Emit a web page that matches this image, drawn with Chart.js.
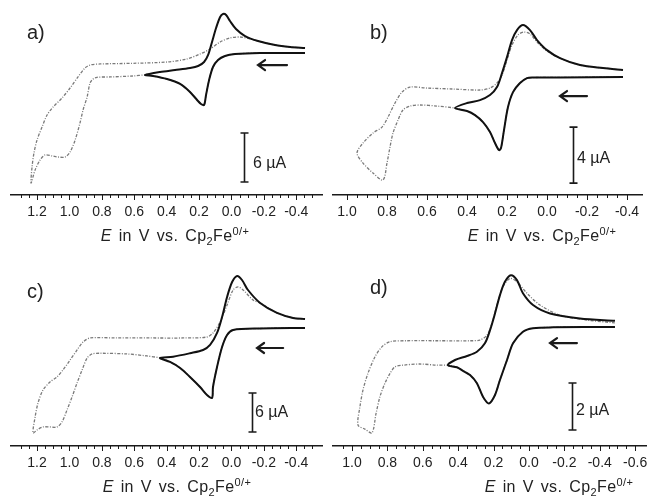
<!DOCTYPE html>
<html>
<head>
<meta charset="utf-8">
<script src="https://cdn.jsdelivr.net/npm/chart.js@4.4.0/dist/chart.umd.min.js"></script>
<style>
  html, body { margin: 0; padding: 0; background: #fff; overflow: hidden; }
  body { width: 647px; height: 498px; position: relative; font-family: "Liberation Sans", Arial, sans-serif; color: #222; }
  .panel { position: absolute; }
  .lbl { position: absolute; white-space: nowrap; line-height: 1; }
  .letter { font-size: 20px; }
  .unit { font-size: 16px; }
  .title { font-size: 16px; letter-spacing: 0.4px; word-spacing: 2px; transform: translateX(-50%); }
  .title sub, .title sup { font-size: 11px; line-height: 0; }
</style>
</head>
<body>
<div class="panel" style="left:10px;top:0;width:313px;height:249px"><canvas id="cvA"></canvas></div>
<div class="panel" style="left:332px;top:0;width:311px;height:249px"><canvas id="cvB"></canvas></div>
<div class="panel" style="left:10px;top:251px;width:313px;height:249px"><canvas id="cvC"></canvas></div>
<div class="panel" style="left:332px;top:251px;width:315px;height:249px"><canvas id="cvD"></canvas></div>

<div class="lbl letter" style="left:27px;top:22px">a)</div>
<div class="lbl letter" style="left:370px;top:22px">b)</div>
<div class="lbl letter" style="left:27px;top:281px">c)</div>
<div class="lbl letter" style="left:370px;top:277px">d)</div>

<div class="lbl unit" style="left:253px;top:155px">6 µA</div>
<div class="lbl unit" style="left:577px;top:150px">4 µA</div>
<div class="lbl unit" style="left:255px;top:404px">6 µA</div>
<div class="lbl unit" style="left:576px;top:402px">2 µA</div>

<div class="lbl title" style="left:175px;top:228px"><i>E</i> in V vs. Cp<sub>2</sub>Fe<sup>0/+</sup></div>
<div class="lbl title" style="left:542px;top:228px"><i>E</i> in V vs. Cp<sub>2</sub>Fe<sup>0/+</sup></div>
<div class="lbl title" style="left:177px;top:479px"><i>E</i> in V vs. Cp<sub>2</sub>Fe<sup>0/+</sup></div>
<div class="lbl title" style="left:559px;top:479px"><i>E</i> in V vs. Cp<sub>2</sub>Fe<sup>0/+</sup></div>

<script>
const FONT = '"Liberation Sans", Arial, sans-serif';

// a) potential (V) and current (µA), solid = scan to 0.53 V, dashed = scan to 1.24 V
const aTicks = [1.2, 1.0, 0.8, 0.6, 0.4, 0.2, 0.0, -0.2, -0.4];
const aSolidE = [-0.454, -0.177, -0.022, 0.040, 0.083, 0.114, 0.138, 0.157, 0.169, 0.188, 0.212, 0.256, 0.317, 0.398, 0.484, 0.533,
  0.441, 0.348, 0.256, 0.206, 0.169, 0.144, 0.120, 0.095, 0.070, 0.052, 0.033, 0.009, -0.028, -0.084, -0.164, -0.269, -0.362, -0.454];
const aSolidI = [-0.37, -0.37, -0.49, -0.73, -1.22, -2.08, -3.67, -5.51, -6.73, -6.61, -6.12, -5.14, -4.16, -3.55, -3.18, -3.06,
  -2.69, -2.45, -2.20, -1.96, -1.47, -0.61, 0.98, 2.69, 4.04, 4.41, 4.28, 3.55, 2.57, 1.71, 1.10, 0.61, 0.37, 0.24];
const aDashE = [-0.454, -0.177, -0.022, 0.040, 0.083, 0.114, 0.138, 0.157, 0.169, 0.188, 0.212, 0.256, 0.317, 0.398, 0.484, 0.533,
  0.607, 0.749, 0.830, 0.854, 0.873, 0.891, 0.916, 0.935, 0.965, 0.996, 1.027, 1.070, 1.107, 1.151, 1.181, 1.212, 1.237,
  1.231, 1.219, 1.200, 1.169, 1.138, 1.101, 1.046, 0.996, 0.947, 0.904, 0.873, 0.811, 0.607, 0.398, 0.274, 0.194, 0.132,
  0.070, 0.009, -0.053, -0.115, -0.164, -0.269, -0.362, -0.454];
const aDashI = [-0.37, -0.37, -0.49, -0.73, -1.22, -2.08, -3.67, -5.51, -6.73, -6.61, -6.12, -5.14, -4.16, -3.55, -3.18, -3.06,
  -3.18, -3.30, -3.34, -3.55, -4.04, -5.75, -7.34, -8.94, -11.02, -12.48, -13.10, -13.10, -12.97, -12.85, -13.46, -14.69, -16.28,
  -14.32, -12.61, -11.02, -9.42, -7.96, -6.98, -5.88, -4.65, -3.30, -2.20, -1.84, -1.71, -1.63, -1.47, -1.10, -0.49, 0.12,
  0.98, 1.47, 1.59, 1.35, 1.10, 0.61, 0.37, 0.24];

// b)
const bTicks = [1.0, 0.8, 0.6, 0.4, 0.2, 0.0, -0.2, -0.4];
const bSolidE = [-0.38, -0.065, 0.07, 0.10, 0.135, 0.17, 0.195, 0.215, 0.23, 0.24, 0.26, 0.285, 0.32, 0.36, 0.40, 0.46,
  0.40, 0.335, 0.285, 0.25, 0.225, 0.20, 0.175, 0.15, 0.12, 0.085, 0.05, 0.0, -0.065, -0.165, -0.28, -0.38];
const bSolidI = [-0.21, -0.24, -0.25, -0.29, -0.64, -1.29, -2.36, -4.0, -5.29, -5.43, -4.93, -4.14, -3.43, -2.93, -2.64, -2.43,
  -2.07, -1.86, -1.5, -0.93, 0.07, 1.21, 2.43, 3.14, 3.5, 3.14, 2.43, 1.71, 1.14, 0.64, 0.43, 0.29];
const bDashE = [-0.38, -0.065, 0.07, 0.10, 0.135, 0.17, 0.195, 0.215, 0.23, 0.24, 0.26, 0.285, 0.32, 0.36, 0.40, 0.46,
  0.55, 0.635, 0.685, 0.72, 0.745, 0.77, 0.785, 0.80, 0.82, 0.87, 0.92, 0.95,
  0.92, 0.87, 0.825, 0.795, 0.76, 0.725, 0.685, 0.60, 0.47, 0.335, 0.285, 0.25, 0.225, 0.20, 0.175, 0.145, 0.115,
  0.085, 0.05, 0.0, -0.065, -0.165, -0.28, -0.38];
const bDashI = [-0.21, -0.24, -0.25, -0.29, -0.64, -1.29, -2.36, -4.0, -5.29, -5.43, -4.93, -4.14, -3.43, -2.93, -2.64, -2.43,
  -2.29, -2.21, -2.29, -2.57, -3.29, -4.21, -5.21, -6.36, -7.57, -7.07, -6.36, -5.64,
  -4.93, -4.21, -3.79, -3.07, -2.07, -1.29, -0.93, -1.0, -1.07, -1.14, -1.0, -0.64, -0.07, 1.0, 2.07, 2.79, 3.0,
  2.86, 2.29, 1.64, 1.14, 0.64, 0.43, 0.29];

// c)
const cTicks = [1.2, 1.0, 0.8, 0.6, 0.4, 0.2, 0.0, -0.2, -0.4];
const cSolidE = [-0.454, -0.177, -0.010, 0.027, 0.058, 0.089, 0.114, 0.120, 0.151, 0.194, 0.256, 0.317, 0.379, 0.441,
  0.360, 0.256, 0.175, 0.132, 0.089, 0.058, 0.027, -0.004, -0.035, -0.065, -0.102, -0.177, -0.281, -0.380, -0.454];
const cSolidI = [-0.69, -0.77, -1.0, -1.77, -3.62, -6.69, -9.77, -11.46, -11.0, -9.77, -8.23, -6.85, -5.92, -5.31,
  -5.11, -4.58, -4.08, -3.31, -1.46, 1.0, 4.08, 6.38, 7.31, 6.69, 5.15, 3.15, 1.62, 0.85, 0.69];
const cDashE = [-0.454, -0.177, -0.010, 0.027, 0.058, 0.089, 0.114, 0.120, 0.151, 0.194, 0.256, 0.317, 0.379, 0.441,
  0.521, 0.644, 0.811, 0.860, 0.891, 0.922, 0.953, 0.984, 1.015, 1.046, 1.077, 1.120, 1.163, 1.200, 1.225,
  1.212, 1.194, 1.163, 1.120, 1.077, 1.040, 0.996, 0.953, 0.916, 0.873, 0.706, 0.502, 0.299, 0.151, 0.114,
  0.070, 0.027, -0.010, -0.041, -0.072, -0.133, -0.177, -0.281, -0.380, -0.454];
const cDashI = [-0.69, -0.77, -1.0, -1.77, -3.62, -6.69, -9.77, -11.46, -11.0, -9.77, -8.23, -6.85, -5.92, -5.31,
  -5.0, -4.69, -4.58, -4.69, -5.31, -7.15, -9.15, -11.31, -13.31, -15.15, -15.92, -15.92, -15.92, -16.38, -16.85,
  -14.38, -12.23, -10.23, -9.0, -8.23, -7.15, -5.62, -4.08, -2.85, -2.23, -2.23, -2.23, -2.23, -2.08, -1.46,
  0.23, 2.85, 5.15, 5.62, 5.15, 3.62, 3.15, 1.62, 0.85, 0.69];

// d)
const dTicks = [1.0, 0.8, 0.6, 0.4, 0.2, 0.0, -0.2, -0.4, -0.6];
const dSolidE = [-0.486, -0.136, -0.023, 0.034, 0.090, 0.124, 0.164, 0.192, 0.226, 0.260, 0.294, 0.333, 0.373, 0.407, 0.458,
  0.418, 0.350, 0.294, 0.249, 0.220, 0.192, 0.164, 0.136, 0.102, 0.068, 0.034, -0.023, -0.119, -0.288, -0.486];
const dSolidI = [-0.14, -0.16, -0.20, -0.35, -0.84, -1.55, -2.40, -3.04, -3.40, -3.11, -2.54, -2.19, -2.01, -1.86, -1.77,
  -1.55, -1.38, -1.20, -0.84, -0.28, 0.43, 1.21, 1.78, 2.06, 1.85, 1.29, 0.79, 0.43, 0.22, 0.12];
const dDashE = [-0.486, -0.136, -0.023, 0.034, 0.090, 0.124, 0.164, 0.192, 0.226, 0.260, 0.294, 0.333, 0.373, 0.407, 0.458,
  0.520, 0.616, 0.712, 0.757, 0.785, 0.814, 0.842, 0.864, 0.887, 0.927, 0.966,
  0.955, 0.938, 0.910, 0.870, 0.831, 0.785, 0.689, 0.520, 0.333, 0.277, 0.237, 0.209, 0.181, 0.147, 0.107,
  0.068, 0.011, -0.062, -0.175, -0.328, -0.486];
const dDashI = [-0.14, -0.16, -0.20, -0.35, -0.84, -1.55, -2.40, -3.04, -3.40, -3.11, -2.54, -2.19, -2.01, -1.86, -1.77,
  -1.77, -1.72, -1.77, -1.84, -2.12, -2.54, -3.11, -3.82, -4.65, -4.49, -4.32,
  -3.54, -2.83, -2.12, -1.41, -0.99, -0.77, -0.73, -0.73, -0.73, -0.70, -0.49, 0.01, 0.79, 1.57, 1.92,
  1.78, 1.29, 0.79, 0.36, 0.15, 0.03];

function isMajor(v, majors) {
  return majors.some(m => Math.abs(m - v) < 1e-6);
}

function toPoints(E, I) {
  return E.map((e, i) => ({ x: e, y: I[i] }));
}

// minor/major ticks, scale bar and scan arrow, all placed through the chart scales
const cvMarks = {
  id: 'cvMarks',
  afterDraw(chart, args, opts) {
    const { ctx, scales: { x, y } } = chart;
    ctx.save();
    ctx.strokeStyle = '#1a1a1a';
    ctx.lineWidth = 1;
    x.ticks.forEach(t => {
      const k = t.value / 0.05;
      if (Math.abs(k - Math.round(k)) > 1e-6) return;
      const px = Math.round(x.getPixelForValue(t.value)) + 0.5;
      const len = isMajor(t.value, opts.majors) ? 5 : 3;
      ctx.beginPath();
      ctx.moveTo(px, x.top);
      ctx.lineTo(px, x.top + len);
      ctx.stroke();
    });

    // scale bar
    const bx = Math.round(x.getPixelForValue(opts.bar.e)) + 0.5;
    const y1 = y.getPixelForValue(opts.bar.top);
    const y2 = y.getPixelForValue(opts.bar.top - opts.bar.size);
    ctx.lineWidth = 1.6;
    ctx.beginPath();
    ctx.moveTo(bx, y1); ctx.lineTo(bx, y2);
    ctx.moveTo(bx - 4, y1); ctx.lineTo(bx + 4, y1);
    ctx.moveTo(bx - 4, y2); ctx.lineTo(bx + 4, y2);
    ctx.stroke();

    // scan direction
    const ax1 = x.getPixelForValue(opts.arrow.tail);
    const ax2 = x.getPixelForValue(opts.arrow.head);
    const ay = y.getPixelForValue(opts.arrow.i);
    ctx.lineWidth = 2.2;
    ctx.lineCap = 'round';
    ctx.beginPath();
    ctx.moveTo(ax1, ay); ctx.lineTo(ax2, ay);
    ctx.moveTo(ax2 + 7, ay - 5); ctx.lineTo(ax2, ay); ctx.lineTo(ax2 + 7, ay + 5);
    ctx.stroke();
    ctx.restore();
  }
};
Chart.register(cvMarks);

function makeChart(id, p) {
  new Chart(document.getElementById(id), {
    type: 'line',
    data: {
      datasets: [{
        data: toPoints(p.solidE, p.solidI),
        borderColor: '#111',
        borderWidth: 2,
        pointRadius: 0,
        tension: 0.3,
        fill: false
      }, {
        data: toPoints(p.dashE, p.dashI),
        borderColor: '#7a7a7a',
        borderWidth: 1.3,
        borderDash: [3, 1.5, 1, 1.5],
        pointRadius: 0,
        tension: 0.3,
        fill: false
      }]
    },
    options: {
      responsive: true,
      maintainAspectRatio: false,
      animation: false,
      layout: { padding: 0 },
      plugins: {
        legend: { display: false },
        tooltip: { enabled: false },
        cvMarks: { majors: p.ticks, bar: p.bar, arrow: p.arrow }
      },
      scales: {
        x: {
          type: 'linear',
          reverse: true,
          min: p.xMin,
          max: p.xMax,
          // fixed axis band, no side padding so the axis spans the whole panel
          afterFit: (s) => { s.height = 54; s.paddingLeft = 0; s.paddingRight = 0; },
          border: { display: true, color: '#1a1a1a', width: 1.5 },
          grid: { drawOnChartArea: false, drawTicks: false },
          ticks: {
            stepSize: 0.05,
            autoSkip: false,
            maxRotation: 0,
            padding: 9,
            color: '#222',
            font: { family: FONT, size: 14 },
            callback: (v) => isMajor(v, p.ticks) ? (Math.abs(v) < 1e-9 ? '0.0' : v.toFixed(1)) : ''
          }
        },
        y: { display: false, min: p.yMin, max: p.yMax }
      }
    }
  });
}

makeChart('cvA', {
  solidE: aSolidE, solidI: aSolidI, dashE: aDashE, dashI: aDashI, ticks: aTicks,
  xMin: -0.565, xMax: 1.367, yMin: -17.75, yMax: 6.12,
  bar: { e: -0.078, top: -10.16, size: 6 }, arrow: { head: -0.164, tail: -0.343, i: -1.84 }
});
makeChart('cvB', {
  solidE: bSolidE, solidI: bSolidI, dashE: bDashE, dashI: bDashI, ticks: bTicks,
  xMin: -0.48, xMax: 1.075, yMin: -8.64, yMax: 5.29,
  bar: { e: -0.13, top: -3.79, size: 4 }, arrow: { head: -0.065, tail: -0.2, i: -1.57 }
});
makeChart('cvC', {
  solidE: cSolidE, solidI: cSolidI, dashE: cDashE, dashI: cDashI, ticks: cTicks,
  xMin: -0.565, xMax: 1.367, yMin: -18.85, yMax: 11.15,
  bar: { e: -0.127, top: -10.69, size: 6 }, arrow: { head: -0.158, tail: -0.319, i: -3.77 }
});
makeChart('cvD', {
  solidE: dSolidE, solidI: dSolidI, dashE: dDashE, dashI: dDashI, ticks: dTicks,
  xMin: -0.667, xMax: 1.113, yMin: -5.21, yMax: 3.09,
  bar: { e: -0.243, top: -2.53, size: 2 }, arrow: { head: -0.119, tail: -0.271, i: -0.83 }
});
</script>
</body>
</html>
